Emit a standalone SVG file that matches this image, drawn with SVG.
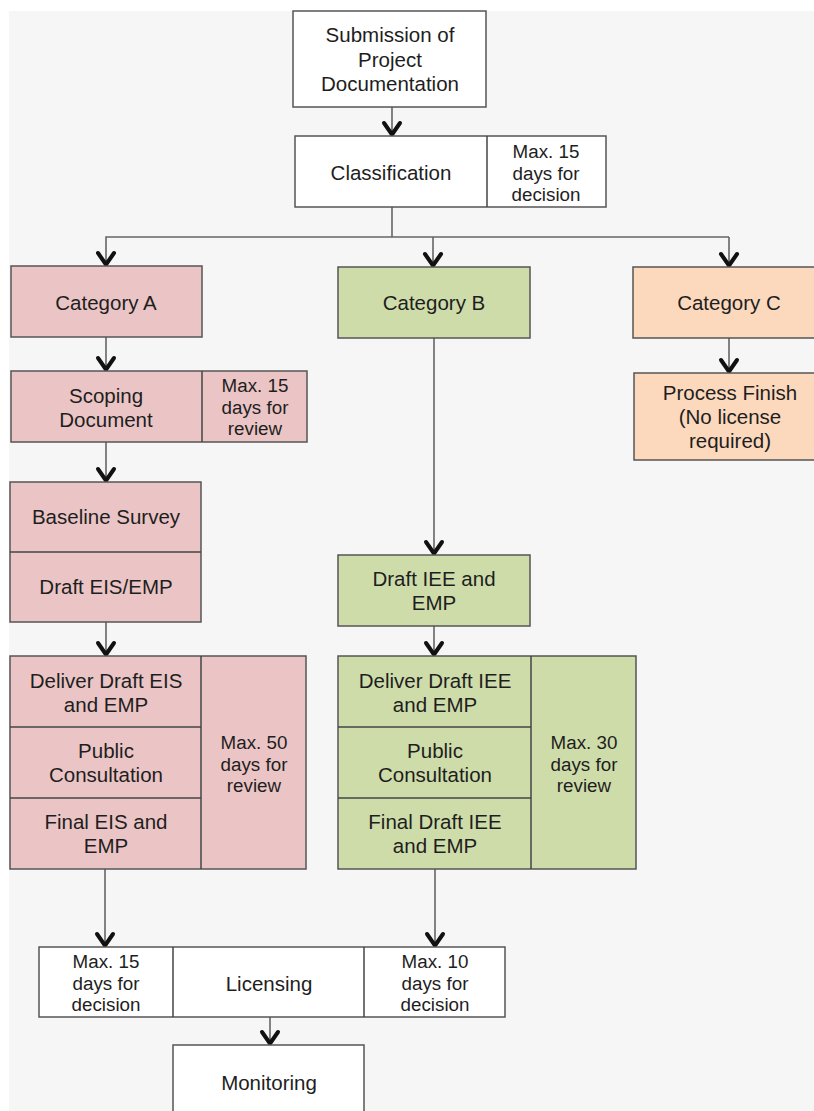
<svg xmlns="http://www.w3.org/2000/svg" width="814" height="1111" viewBox="0 0 814 1111">
<defs>
<style>
.bx{stroke:#555;stroke-width:1.5}
.w{fill:#fff}
.p{fill:#ebc5c5}
.g{fill:#cedcaa}
.o{fill:#fcd8bd}
.dv{stroke:#444;stroke-width:1.5;fill:none}
text{font-family:"Liberation Sans",Arial,sans-serif;fill:#1e1e1e;text-anchor:middle}
.t{font-size:20.5px}
.s{font-size:18.8px}
.c{stroke:#666;stroke-width:1.6;fill:none}
.ca{stroke:#666;stroke-width:1.6;fill:none;marker-end:url(#ah)}
</style>
<marker id="ah" viewBox="-16 -11 18 22" markerWidth="18" markerHeight="22" refX="0" refY="0" orient="auto" markerUnits="userSpaceOnUse">
<path d="M-13,-8 L-1.5,0 L-13,8" fill="none" stroke="#111" stroke-width="4" stroke-linecap="round" stroke-linejoin="round"/>
</marker>
</defs>
<rect x="0" y="0" width="814" height="1111" fill="#fff"/>
<rect x="9" y="11" width="805" height="1100" fill="#f6f6f6"/>

<g id="connectors">
<line class="ca" x1="392" y1="107" x2="392" y2="136"/>
<polyline class="c" points="392,207 392,237"/>
<polyline class="ca" points="729,237 106,237 106,266"/>
<line class="ca" x1="433" y1="237" x2="433" y2="267"/>
<line class="ca" x1="729" y1="237" x2="729" y2="267"/>
<line class="ca" x1="106" y1="337" x2="106" y2="371"/>
<line class="ca" x1="106" y1="442" x2="106" y2="482"/>
<line class="ca" x1="106" y1="622" x2="106" y2="656"/>
<line class="ca" x1="105" y1="869" x2="105" y2="947"/>
<line class="ca" x1="434" y1="338" x2="434" y2="555"/>
<line class="ca" x1="434" y1="626" x2="434" y2="656"/>
<line class="ca" x1="435" y1="869" x2="435" y2="947"/>
<line class="ca" x1="270" y1="1017" x2="270" y2="1045"/>
<line class="ca" x1="729" y1="338" x2="729" y2="373"/>
</g>

<g id="submission">
<rect class="bx w" x="293" y="11" width="193" height="96"/>
<text class="t" x="390" y="42">Submission of</text>
<text class="t" x="390" y="67">Project</text>
<text class="t" x="390" y="91">Documentation</text>
</g>

<g id="classification">
<rect class="bx w" x="295" y="136" width="311" height="71"/>
<line class="dv" x1="487" y1="136" x2="487" y2="207"/>
<text class="t" x="391" y="180">Classification</text>
<text class="s" x="546" y="158">Max. 15</text>
<text class="s" x="546" y="180">days for</text>
<text class="s" x="546" y="201">decision</text>
</g>

<g id="categoryA">
<rect class="bx p" x="11" y="266" width="191" height="71"/>
<text class="t" x="106" y="310">Category A</text>
</g>

<g id="scoping">
<rect class="bx p" x="11" y="371" width="296" height="71"/>
<line class="dv" x1="202" y1="371" x2="202" y2="442"/>
<text class="t" x="106" y="403">Scoping</text>
<text class="t" x="106" y="427">Document</text>
<text class="s" x="255" y="392">Max. 15</text>
<text class="s" x="255" y="414">days for</text>
<text class="s" x="255" y="435">review</text>
</g>

<g id="baseline">
<rect class="bx p" x="10" y="482" width="191" height="140"/>
<line class="dv" x1="10" y1="552" x2="201" y2="552"/>
<text class="t" x="106" y="524">Baseline Survey</text>
<text class="t" x="106" y="594">Draft EIS/EMP</text>
</g>

<g id="deliverA">
<rect class="bx p" x="10" y="656" width="296" height="213"/>
<line class="dv" x1="201" y1="656" x2="201" y2="869"/>
<line class="dv" x1="10" y1="727" x2="201" y2="727"/>
<line class="dv" x1="10" y1="798" x2="201" y2="798"/>
<text class="t" x="106" y="688">Deliver Draft EIS</text>
<text class="t" x="106" y="712">and EMP</text>
<text class="t" x="106" y="758">Public</text>
<text class="t" x="106" y="782">Consultation</text>
<text class="t" x="106" y="829">Final EIS and</text>
<text class="t" x="106" y="853">EMP</text>
<text class="s" x="254" y="749">Max. 50</text>
<text class="s" x="254" y="771">days for</text>
<text class="s" x="254" y="792">review</text>
</g>

<g id="categoryB">
<rect class="bx g" x="338" y="267" width="192" height="71"/>
<text class="t" x="434" y="310">Category B</text>
</g>

<g id="draftIEE">
<rect class="bx g" x="338" y="555" width="192" height="71"/>
<text class="t" x="434" y="586">Draft IEE and</text>
<text class="t" x="434" y="610">EMP</text>
</g>

<g id="deliverB">
<rect class="bx g" x="338" y="656" width="298" height="213"/>
<line class="dv" x1="531" y1="656" x2="531" y2="869"/>
<line class="dv" x1="338" y1="727" x2="531" y2="727"/>
<line class="dv" x1="338" y1="798" x2="531" y2="798"/>
<text class="t" x="435" y="688">Deliver Draft IEE</text>
<text class="t" x="435" y="712">and EMP</text>
<text class="t" x="435" y="758">Public</text>
<text class="t" x="435" y="782">Consultation</text>
<text class="t" x="435" y="829">Final Draft IEE</text>
<text class="t" x="435" y="853">and EMP</text>
<text class="s" x="584" y="749">Max. 30</text>
<text class="s" x="584" y="771">days for</text>
<text class="s" x="584" y="792">review</text>
</g>

<g id="categoryC">
<rect class="bx o" x="633" y="267" width="192" height="71"/>
<text class="t" x="729" y="310">Category C</text>
</g>

<g id="processFinish">
<rect class="bx o" x="634" y="373" width="191" height="87"/>
<text class="t" x="730" y="400">Process Finish</text>
<text class="t" x="730" y="424">(No license</text>
<text class="t" x="730" y="448">required)</text>
</g>

<g id="licensing">
<rect class="bx w" x="39" y="947" width="466" height="70"/>
<line class="dv" x1="173" y1="947" x2="173" y2="1017"/>
<line class="dv" x1="364" y1="947" x2="364" y2="1017"/>
<text class="s" x="106" y="968">Max. 15</text>
<text class="s" x="106" y="990">days for</text>
<text class="s" x="106" y="1011">decision</text>
<text class="t" x="269" y="991">Licensing</text>
<text class="s" x="435" y="968">Max. 10</text>
<text class="s" x="435" y="990">days for</text>
<text class="s" x="435" y="1011">decision</text>
</g>

<g id="monitoring">
<rect class="bx w" x="173" y="1045" width="191" height="80"/>
<text class="t" x="269" y="1090">Monitoring</text>
</g>
</svg>
